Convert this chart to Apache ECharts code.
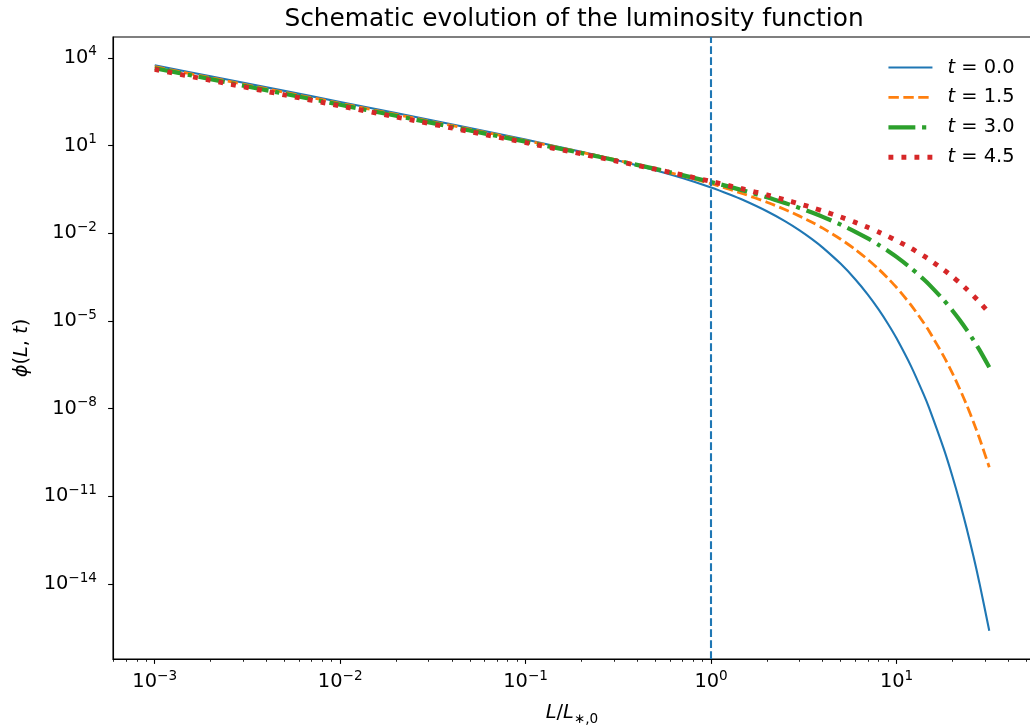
<!DOCTYPE html>
<html><head><meta charset="utf-8">
<script src="https://cdn.jsdelivr.net/npm/echarts@6/dist/echarts.min.js"></script>
<style>html,body{margin:0;padding:0;background:#fff}#c{width:1030px;height:728px}</style>
</head><body><div id="c"></div>
<script>
// L / L*,0
const luminosity = [0.001,0.002,0.005,0.01,0.02,0.05,0.1,0.2,0.3,0.5,0.7,1,1.25,1.5,2,2.5,3,3.5,4,5,6,7,8,9,10,12,14,15,18,20,22,24,26,28,31.62];
// phi(L, t)
const phiT00 = [5620,2360,748,313,130,40.2,16.1,6.12,3.34,1.44,0.776,0.368,0.217,0.135,0.0569,0.0261,0.0126,6.31e-3,3.24e-3,9.0e-4,2.64e-4,8.02e-5,2.49e-5,7.91e-6,2.55e-6,2.75e-7,3.07e-8,1.04e-8,4.11e-10,4.88e-11,5.86e-12,7.11e-13,8.71e-14,1.07e-14,2.52e-16];
const phiT15 = [5010,2106,668,280,117,36.6,14.9,5.93,3.37,1.58,0.923,0.495,0.323,0.222,0.116,0.0652,0.0387,0.0238,0.0150,6.28e-3,2.78e-3,1.27e-3,5.98e-4,2.86e-4,1.40e-4,3.43e-5,8.71e-6,4.44e-6,6.05e-7,1.64e-7,4.48e-8,1.24e-8,3.45e-9,9.70e-10,9.9e-11];
const phiT30 = [4466,1878,596,250,105,33.0,13.66,5.56,3.24,1.60,0.982,0.568,0.395,0.289,0.171,0.109,0.0736,0.0513,0.0366,0.0198,0.0113,6.67e-3,4.03e-3,2.49e-3,1.56e-3,6.35e-4,2.67e-4,1.75e-4,5.11e-5,2.29e-5,1.04e-5,4.76e-6,2.20e-6,1.03e-6,2.62e-7];
const phiT45 = [4073,1713,544,228.6,96.0,30.3,12.63,5.21,3.08,1.56,0.986,0.595,0.428,0.325,0.205,0.141,0.1016,0.0758,0.0581,0.0361,0.0236,0.0160,0.0111,7.85e-3,5.65e-3,3.03e-3,1.68e-3,1.27e-3,5.58e-4,3.30e-4,1.97e-4,1.19e-4,7.24e-5,4.46e-5,1.87e-5];
const timeLabels = ['0.0','1.5','3.0','4.5'];
const xMajorTicks = [1e-3,1e-2,1e-1,1,10];
const xMinorTicks = [6e-4,7e-4,8e-4,9e-4,2e-3,3e-3,4e-3,5e-3,6e-3,7e-3,8e-3,9e-3,2e-2,3e-2,4e-2,5e-2,6e-2,7e-2,8e-2,9e-2,0.2,0.3,0.4,0.5,0.6,0.7,0.8,0.9,2,3,4,5,6,7,8,9,20,30,40,50];
const yMajorTicks = [1e4,1e1,1e-2,1e-5,1e-8,1e-11,1e-14];
const lStarLine = 1;

const FONT = 'DejaVu Sans';
const FS = 19.4, FSS = 13.6;
const colors = ['#1f77b4','#ff7f0e','#2ca02c','#d62728'];
const widths = [2.1, 2.8, 4.2, 4.9];
const dashes = ['solid', [10.4, 4.5], [26.9, 6.7, 4.2, 6.7], [4.9, 8.1]];
const seriesVals = [phiT00, phiT15, phiT30, phiT45];

const xMin = Math.pow(10, -3.225), xMax = Math.pow(10, 1.725);
const yMin = Math.pow(10, -16.566), yMax = Math.pow(10, 4.717);

function pow10Label(v) {
  const e = Math.round(Math.log10(v));
  return '{b|10}{s|' + (e < 0 ? '\u2212' + (-e) : e) + '}';
}
const tickRich = {
  b: {fontFamily: FONT, fontSize: FS, lineHeight: 26, color: '#000'},
  s: {fontFamily: FONT, fontSize: FSS, lineHeight: 12, verticalAlign: 'top', color: '#000'}
};

const chart = echarts.init(document.getElementById('c'), null, {renderer: 'canvas'});
const series = seriesVals.map((vals, i) => ({
  name: 't = ' + timeLabels[i],
  type: 'line',
  xAxisIndex: 0, yAxisIndex: 0,
  data: luminosity.map((x, j) => [x, vals[j]]),
  symbol: 'none', showSymbol: false, smooth: 0.25,
  lineStyle: {color: colors[i], width: widths[i], type: dashes[i], cap: 'butt'},
  itemStyle: {color: colors[i]},
  z: 2 + i
}));
series[0].markLine = {
  silent: true, symbol: 'none', animation: false,
  label: {show: false},
  lineStyle: {color: '#1f77b4', width: 2.1, type: [7.7, 3.3]},
  data: [{xAxis: lStarLine}]
};

chart.setOption({
  animation: false,
  backgroundColor: '#fff',
  title: {
    text: 'Schematic evolution of the luminosity function',
    left: 569, textAlign: 'center', top: 2,
    textStyle: {fontFamily: FONT, fontSize: 24.8, fontWeight: 'normal', color: '#000'}
  },
  legend: {
    orient: 'vertical', left: 881, top: 53, itemWidth: 44, itemHeight: 14, itemGap: 10.9,
    align: 'left',
    data: series.map((s, i) => ({
      name: s.name,
      lineStyle: {width: widths[i], type: dashes[i], color: colors[i], cap: 'butt'},
      itemStyle: {color: 'rgba(0,0,0,0)', borderWidth: 0, opacity: 0}
    })),
    formatter: name => '{i|t}{r| = ' + name.slice(4) + '}',
    textStyle: {
      padding: [0, 0, 0, 10],
      rich: {
        i: {fontFamily: FONT, fontStyle: 'italic', fontSize: FS, color: '#000'},
        r: {fontFamily: FONT, fontSize: FS, color: '#000'}
      }
    }
  },
  grid: {left: 113, top: 37, width: 918, height: 622, show: true, borderColor: '#000', borderWidth: 1.1, backgroundColor: 'transparent', containLabel: false, outerBoundsMode: 'none'},
  xAxis: [{
    type: 'log', logBase: 10, min: xMin, max: xMax, gridIndex: 0,
    axisLine: {show: true, lineStyle: {color: '#000', width: 1.1}},
    axisTick: {show: true, length: 4.9, lineStyle: {color: '#000', width: 1.1}, customValues: xMajorTicks},
    axisLabel: {show: true, margin: 10, customValues: xMajorTicks, formatter: pow10Label, rich: tickRich},
    splitLine: {show: false}, minorTick: {show: false}, minorSplitLine: {show: false},
    name: '{i|L}/{i|L}{sub|\u2217,0}', nameLocation: 'middle', nameGap: 41,
    nameTextStyle: {fontFamily: FONT, fontSize: FS, color: '#000', rich: {
      i: {fontFamily: FONT, fontStyle: 'italic', fontSize: FS, lineHeight: 26, color: '#000'},
      sub: {fontFamily: FONT, fontSize: FSS, lineHeight: 12, verticalAlign: 'bottom', color: '#000'}
    }}
  }, {
    type: 'log', logBase: 10, min: xMin, max: xMax, gridIndex: 0, position: 'bottom',
    axisLine: {show: false},
    axisTick: {show: true, length: 2.8, lineStyle: {color: '#000', width: 0.85}, customValues: xMinorTicks},
    axisLabel: {show: false},
    splitLine: {show: false}
  }],
  yAxis: [{
    type: 'log', logBase: 10, min: yMin, max: yMax, gridIndex: 0,
    axisLine: {show: true, lineStyle: {color: '#000', width: 1.1}},
    axisTick: {show: true, length: 4.9, lineStyle: {color: '#000', width: 1.1}, customValues: yMajorTicks},
    axisLabel: {show: true, margin: 16, customValues: yMajorTicks, formatter: pow10Label, rich: tickRich},
    splitLine: {show: false},
    name: '{i|\u03d5}({i|L}, {i|t})', nameLocation: 'middle', nameGap: 78, nameRotate: 90,
    nameTextStyle: {fontFamily: FONT, fontSize: FS, color: '#000', rich: {
      i: {fontFamily: FONT, fontStyle: 'italic', fontSize: FS, lineHeight: 26, color: '#000'}
    }}
  }],
  series: series
});
</script>
</body></html>
